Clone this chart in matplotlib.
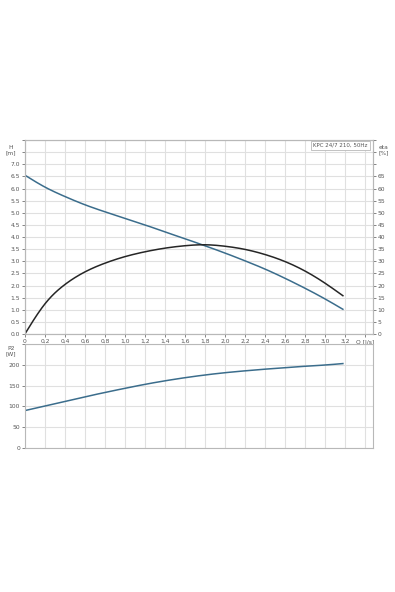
import matplotlib
matplotlib.use("Agg")
import matplotlib.pyplot as plt
import numpy as np

# pump curve readings
q = [0.0, 0.2, 0.4, 0.6, 0.8, 1.0, 1.2, 1.4, 1.6, 1.8, 2.0, 2.2, 2.4, 2.6, 2.8, 3.0, 3.18]
head = [6.55, 6.06, 5.67, 5.33, 5.04, 4.77, 4.50, 4.21, 3.93, 3.64, 3.34, 3.02, 2.68, 2.30, 1.89, 1.45, 1.02]
eta = [0.0, 12.4, 20.4, 25.6, 29.2, 31.9, 33.9, 35.4, 36.4, 36.8, 36.2, 34.9, 32.8, 29.9, 26.0, 21.0, 15.8]
p2 = [90, 101, 112, 123, 133.5, 143.5, 153, 161.5, 169, 175.5, 181, 185.5, 189.5, 193, 196.5, 199.5, 203]

q_ticks = [0.0, 0.2, 0.4, 0.6, 0.8, 1.0, 1.2, 1.4, 1.6, 1.8, 2.0, 2.2, 2.4, 2.6, 2.8, 3.0, 3.2, 3.4]
q_labels = ["0", "0,2", "0,4", "0,6", "0,8", "1,0", "1,2", "1,4", "1,6", "1,8",
            "2,0", "2,2", "2,4", "2,6", "2,8", "3,0", "3,2", "Q [l/s]"]
title = "KPC 24/7 210, 50Hz"

blue = "#3b6d8c"
dark = "#262626"
grid_c = "#e0e0e0"
frame_c = "#b8b8b8"
txt_c = "#555555"
fs = 4.3

fig = plt.figure(figsize=(3.95, 5.92), dpi=100)


def spline(x, y, n=300):
    # natural cubic spline through the read points
    x = np.asarray(x, float)
    y = np.asarray(y, float)
    k = len(x)
    h = np.diff(x)
    A = np.zeros((k, k))
    b = np.zeros(k)
    A[0, 0] = A[-1, -1] = 1
    for i in range(1, k - 1):
        A[i, i - 1] = h[i - 1]
        A[i, i] = 2 * (h[i - 1] + h[i])
        A[i, i + 1] = h[i]
        b[i] = 3 * ((y[i + 1] - y[i]) / h[i] - (y[i] - y[i - 1]) / h[i - 1])
    c = np.linalg.solve(A, b)
    xs = np.linspace(x[0], x[-1], n)
    idx = np.clip(np.searchsorted(x, xs) - 1, 0, k - 2)
    dx = xs - x[idx]
    bb = (y[idx + 1] - y[idx]) / h[idx] - h[idx] * (2 * c[idx] + c[idx + 1]) / 3
    d = (c[idx + 1] - c[idx]) / (3 * h[idx])
    return xs, y[idx] + bb * dx + c[idx] * dx ** 2 + d * dx ** 3


def style(ax):
    for s in ax.spines.values():
        s.set_color(frame_c)
        s.set_linewidth(0.8)
    ax.tick_params(labelsize=fs, colors=txt_c, length=2, width=0.5, pad=1.5)
    ax.set_axisbelow(True)
    ax.grid(True, color=grid_c, linewidth=0.8)


ax = fig.add_axes([0.063, 0.4358, 0.881, 0.3277])
style(ax)
ax.set_xlim(0, 3.48)
ax.set_ylim(0, 8)
ax.set_xticks(q_ticks)
ax.set_xticklabels(q_labels)
ax.set_yticks(np.arange(0, 8.01, 0.5))
ax.set_yticklabels(["%.1f" % v if v <= 7.0 else "" for v in np.arange(0, 8.01, 0.5)])
ax.text(-0.04, 0.975, "H\n[m]", transform=ax.transAxes, fontsize=fs,
        color=txt_c, ha="center", va="top", linespacing=1.1)

x1, y1 = spline(q, head)
ax.plot(x1, y1, color=blue, linewidth=1.1)

ax2 = ax.twinx()
ax2.set_ylim(0, 80)
ax2.set_yticks(np.arange(0, 81, 5))
ax2.set_yticklabels([str(v) if v <= 65 else "" for v in range(0, 81, 5)])
style(ax2)
ax2.grid(False)
x2, y2 = spline(q, eta)
ax2.plot(x2, y2, color=dark, linewidth=1.1)
ax2.text(1.03, 0.975, "eta\n[%]", transform=ax2.transAxes, fontsize=fs,
         color=txt_c, ha="center", va="top", linespacing=1.1)
ax2.text(0.985, 0.985, title, transform=ax2.transAxes, fontsize=fs - 0.3,
         color=txt_c, ha="right", va="top",
         bbox=dict(boxstyle="square,pad=0.35", fc="white", ec=frame_c, lw=0.6))

bx = fig.add_axes([0.063, 0.2432, 0.881, 0.1757])
style(bx)
bx.set_xlim(0, 3.48)
bx.set_ylim(0, 250)
bx.set_xticks(q_ticks)
bx.tick_params(axis="x", length=0, labelbottom=False)
bx.set_yticks(range(0, 251, 50))
bx.set_yticklabels([str(v) if v <= 200 else "" for v in range(0, 251, 50)])
bx.text(-0.04, 0.98, "P2\n[W]", transform=bx.transAxes, fontsize=fs,
        color=txt_c, ha="center", va="top", linespacing=1.1)
x3, y3 = spline(q, p2)
bx.plot(x3, y3, color=blue, linewidth=1.1)

fig.savefig("out.png", dpi=100)
